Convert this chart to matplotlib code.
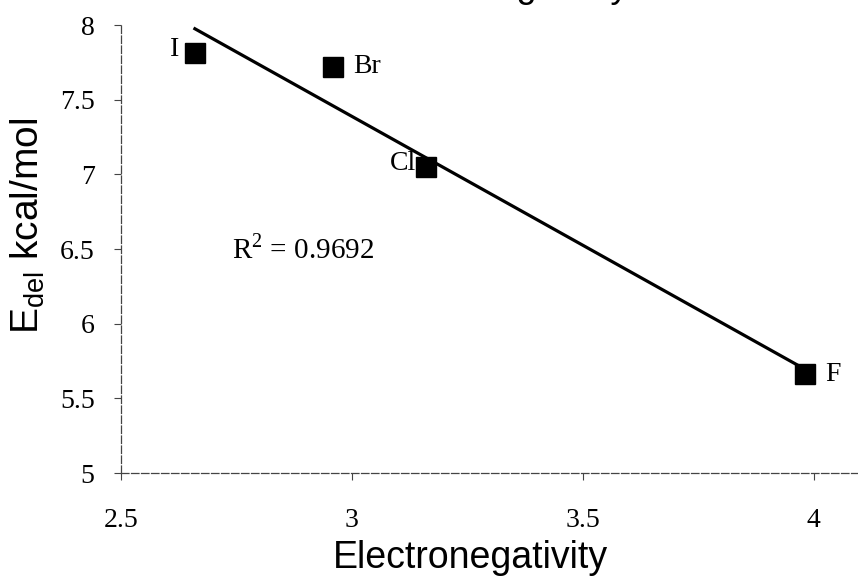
import numpy as np
import matplotlib
matplotlib.use('Agg')
import matplotlib.pyplot as plt

# Data
elements = ['I', 'Br', 'Cl', 'F']
electroneg = [2.66, 2.96, 3.16, 3.98]
e_del = [7.81, 7.72, 7.05, 5.66]
r2_text = 'R$^2$ = 0.9692'
x_ticks = [2.5, 3, 3.5, 4]
x_ticklabels = ['2.5', '3', '3.5', '4']
y_ticks = [5, 5.5, 6, 6.5, 7, 7.5, 8]
y_ticklabels = ['5', '5.5', '6', '6.5', '7', '7.5', '8']

plt.rcParams['font.family'] = 'Liberation Serif'
plt.rcParams['mathtext.fontset'] = 'custom'
plt.rcParams['mathtext.rm'] = 'Liberation Serif'

W, H = 858, 578
fig = plt.figure(figsize=(W / 100, H / 100), dpi=100)
ax = fig.add_axes([121 / W, 1 - 473 / H, (860 - 121) / W, (473 - 25) / H])

# linear trend line
slope, intercept = np.polyfit(electroneg, e_del, 1)
xfit = np.array([min(electroneg), max(electroneg)])
ax.plot(xfit, slope * xfit + intercept, color='black', lw=2.3, zorder=2)

ax.plot(electroneg, e_del, ls='none', marker='s', ms=14, color='black', zorder=3)

# point labels
offsets = {'I': (-16, 4, 'right'), 'Br': (20, 0, 'left'),
           'Cl': (-10, 3, 'right'), 'F': (21, 0, 'left')}
for el, x, y in zip(elements, electroneg, e_del):
    dx, dy, ha = offsets[el]
    ax.annotate(el, (x, y), xytext=(dx, dy), textcoords='offset pixels',
                ha=ha, va='center', fontsize=20)

ax.text(2.74, 6.5, r2_text, fontsize=21, va='center', ha='left')

ax.set_xlim(2.5, 4.1)
ax.set_ylim(5, 8)
ax.set_xticks(x_ticks)
ax.set_xticklabels(x_ticklabels)
ax.set_yticks(y_ticks)
ax.set_yticklabels(y_ticklabels)
ax.tick_params(axis='both', labelsize=20, direction='out', length=5,
               width=0.8, color='#444444')
ax.tick_params(axis='x', pad=20)
ax.tick_params(axis='y', pad=14)

for s in ['top', 'right']:
    ax.spines[s].set_visible(False)
for s in ['left', 'bottom']:
    ax.spines[s].set_color('#444444')
    ax.spines[s].set_linewidth(0.9)
    ax.spines[s].set_linestyle((0, (6, 2)))

fig.text(470 / W, 1 - 558 / H, 'Electronegativity',
         family='Liberation Sans', fontsize=27, ha='center', va='center')
fig.text(28 / W, 1 - 226 / H, r'$\mathregular{E_{del}}$ kcal/mol',
         family='Liberation Sans', fontsize=28, rotation=90,
         ha='center', va='center')

# title mostly cut off at the top edge, only descenders show
fig.text(629 / W, 1 + 3 / H, 'Edel vs Electronegativity',
         family='Liberation Sans', fontsize=26, ha='right', va='baseline')

plt.savefig('out.png', dpi=100)
